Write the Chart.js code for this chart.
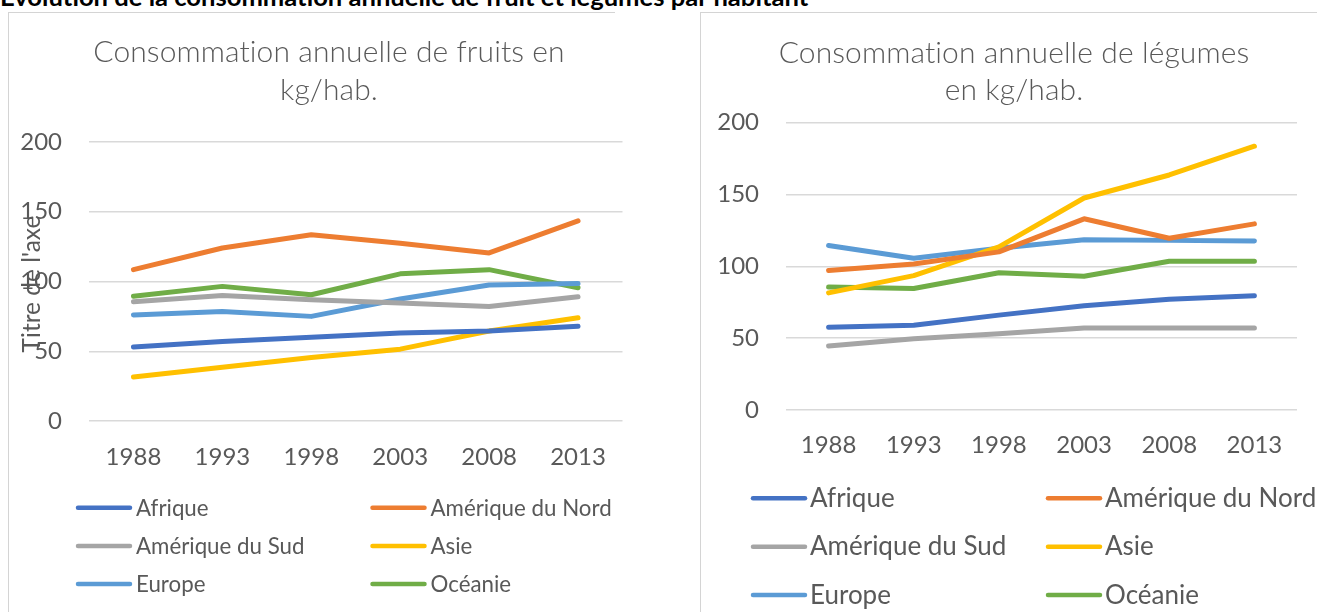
<!DOCTYPE html>
<html>
<head>
<meta charset="utf-8">
<script src="https://cdn.jsdelivr.net/npm/chart.js@4.4.1/dist/chart.umd.min.js"></script>
<style>
  html, body { margin:0; padding:0; background:#ffffff; width:1317px; height:612px; overflow:hidden; }
  #pageTitle { position:absolute; left:0; top:-19px; font:bold 25.6px Lato, sans-serif; line-height:30px; color:#000; white-space:nowrap; font-variant-ligatures:none; }
  .line { position:absolute; background:#D4D4D4; }
  .wrap { position:absolute; }
  #w1 { left:9px; top:12px; width:640px; height:600px; }
  #w2 { left:701px; top:12px; width:616px; height:600px; }
</style>
</head>
<body>
<div id="pageTitle">Évolution de la consommation annuelle de fruit et légumes par habitant</div>
<div class="line" style="left:8px;top:12px;width:1px;height:600px;"></div>
<div class="line" style="left:8px;top:12px;width:607px;height:1px;"></div>
<div class="line" style="left:700px;top:12px;width:1px;height:600px;"></div>
<div class="line" style="left:700px;top:12px;width:617px;height:1px;"></div>
<div class="wrap" id="w1"><canvas id="c1"></canvas></div>
<div class="wrap" id="w2"><canvas id="c2"></canvas></div>
<script>
// ---------- DATA ----------
const years = ['1988', '1993', '1998', '2003', '2008', '2013'];
const regions = ['Afrique', 'Amérique du Nord', 'Amérique du Sud', 'Asie', 'Europe', 'Océanie'];
const regionColors = ['#4472C4', '#ED7D31', '#A5A5A5', '#FFC000', '#5B9BD5', '#70AD47'];

const fruitsAfrique       = [53, 57, 60, 63, 64.5, 68];
const fruitsAmeriqueNord  = [108.5, 124, 133.5, 127.5, 120.5, 143.5];
const fruitsAmeriqueSud   = [85.5, 90, 87, 84.5, 82, 89];
const fruitsAsie          = [31.5, 38.5, 45.5, 51.5, 64.5, 74];
const fruitsEurope        = [76, 78.5, 75, 87.5, 97.5, 98.5];
const fruitsOceanie       = [89.5, 96.5, 90.5, 105.5, 108.5, 95.5];

const legumesAfrique      = [57.5, 59, 66, 72.5, 77, 79.5];
const legumesAmeriqueNord = [97, 101.5, 110, 133, 119.5, 129.5];
const legumesAmeriqueSud  = [44.5, 49.5, 53, 57, 57, 57];
const legumesAsie         = [81.5, 93.5, 113.5, 147.5, 163.5, 183.5];
const legumesEurope       = [114.5, 105.5, 112.5, 118.5, 118, 117.5];
const legumesOceanie      = [85.5, 84.5, 95.5, 93, 103.5, 103.5];

const yTicks = [0, 50, 100, 150, 200];

const fruitsTitle  = ['Consommation annuelle de fruits en', 'kg/hab.'];
const legumesTitle = ['Consommation annuelle de légumes', 'en kg/hab.'];
const axisTitle = "Titre de l'axe";

// ---------- STYLE ----------
const TEXT = '#595959';
const GRID = '#D9D9D9';
Chart.defaults.font.family = 'Lato, sans-serif';
Chart.defaults.color = TEXT;

const decor = {
  id: 'decor',
  afterDraw(chart, args, o) {
    const ctx = chart.ctx;
    ctx.save();
    ctx.fillStyle = TEXT;
    ctx.textAlign = 'center';
    ctx.textBaseline = 'alphabetic';
    ctx.font = o.titleFont;
    if ('letterSpacing' in ctx) ctx.letterSpacing = '0.1px';
    o.title.forEach((t, i) => ctx.fillText(t, o.titleX, o.titleY + i * o.titleGap));
    if ('letterSpacing' in ctx) ctx.letterSpacing = '0px';
    if (o.yTitle) {
      ctx.save();
      ctx.translate(o.yTitleX, o.yTitleY);
      ctx.rotate(-Math.PI / 2);
      ctx.font = o.yTitleFont;
      ctx.textAlign = 'center';
      ctx.textBaseline = 'alphabetic';
      ctx.fillText(o.yTitle, 0, 0);
      ctx.restore();
    }
    chart.data.datasets.forEach((ds, i) => {
      const lx = o.legCols[i % 2];
      const ly = o.legRows[Math.floor(i / 2)];
      ctx.strokeStyle = ds.borderColor;
      ctx.lineWidth = o.legLineW;
      ctx.lineCap = 'round';
      ctx.beginPath();
      ctx.moveTo(lx + 2, ly);
      ctx.lineTo(lx + o.legLineLen - 2, ly);
      ctx.stroke();
      ctx.font = o.legFont;
      ctx.textAlign = 'left';
      ctx.textBaseline = 'alphabetic';
      ctx.fillText(ds.label, lx + o.legTextDx, ly + o.legBaseDy);
    });
    ctx.restore();
  }
};

function buildDatasets(series) {
  return series.map((vals, i) => ({
    label: regions[i],
    data: vals,
    borderColor: regionColors[i],
    backgroundColor: regionColors[i],
    borderWidth: 5,
    borderCapStyle: 'round',
    borderJoinStyle: 'round',
    pointRadius: 0,
    pointHoverRadius: 0,
    tension: 0,
    fill: false
  }));
}

function makeChart(id, series, L) {
  return new Chart(document.getElementById(id), {
    type: 'line',
    data: { labels: years, datasets: buildDatasets(series) },
    plugins: [decor],
    options: {
      responsive: true,
      maintainAspectRatio: false,
      animation: false,
      events: [],
      layout: { padding: { top: L.top, right: L.right, bottom: L.bottom, left: 0 } },
      plugins: {
        legend: { display: false },
        title: { display: false },
        tooltip: { enabled: false },
        decor: L.decor
      },
      scales: {
        x: {
          type: 'category',
          offset: true,
          grid: { display: false, drawTicks: false },
          border: { display: false },
          ticks: { font: { size: L.tickSize }, color: TEXT, padding: L.xPad, maxRotation: 0, autoSkip: false },
          afterFit: (s) => { s.height = 60; }
        },
        y: {
          min: 0, max: 200,
          afterBuildTicks: (s) => { s.ticks = yTicks.map(v => ({ value: v })); },
          grid: { color: GRID, lineWidth: 1.4, drawTicks: false },
          border: { display: false },
          ticks: { font: { size: L.tickSize }, color: TEXT, padding: L.yPad },
          afterFit: (s) => { s.width = L.yWidth; }
        }
      }
    }
  });
}

makeChart('c1',
  [fruitsAfrique, fruitsAmeriqueNord, fruitsAmeriqueSud, fruitsAsie, fruitsEurope, fruitsOceanie],
  {
    top: 130, right: 26.5, bottom: 131, yWidth: 80, tickSize: 24, xPad: 22, yPad: 27,
    decor: {
      title: fruitsTitle, titleFont: '300 30px Lato, sans-serif', titleX: 320, titleY: 50, titleGap: 37.5,
      yTitle: axisTitle, yTitleFont: '24.5px Lato, sans-serif', yTitleX: 31, yTitleY: 272,
      legCols: [67, 361.5], legRows: [495.7, 534, 572], legLineW: 4.5, legLineLen: 56,
      legTextDx: 60, legFont: '22.3px Lato, sans-serif', legBaseDy: 7.8
    }
  });

makeChart('c2',
  [legumesAfrique, legumesAmeriqueNord, legumesAmeriqueSud, legumesAsie, legumesEurope, legumesOceanie],
  {
    top: 110.5, right: 20, bottom: 142, yWidth: 85, tickSize: 24, xPad: 21, yPad: 27,
    decor: {
      title: legumesTitle, titleFont: '300 30px Lato, sans-serif', titleX: 313, titleY: 51, titleGap: 37,
      yTitle: null,
      legCols: [50, 345], legRows: [486.3, 534.7, 583], legLineW: 4.5, legLineLen: 56,
      legTextDx: 59, legFont: '26px Lato, sans-serif', legBaseDy: 8.5
    }
  });
</script>
</body>
</html>
